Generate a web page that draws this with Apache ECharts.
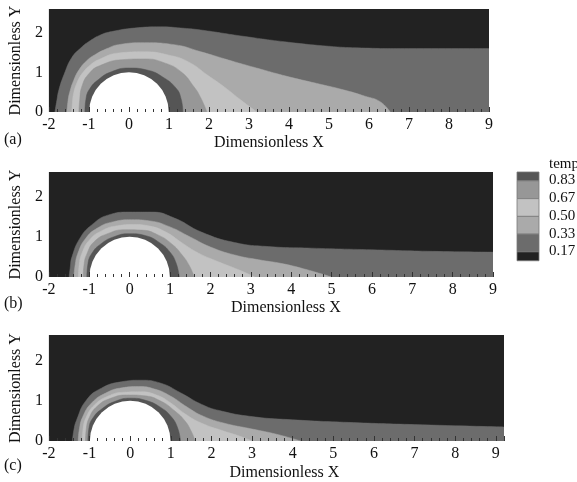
<!DOCTYPE html>
<html><head><meta charset="utf-8">
<script src="https://cdn.jsdelivr.net/npm/echarts@6/dist/echarts.min.js"></script>
<style>html,body{margin:0;padding:0;background:#fff}#c{width:577px;height:482px}</style>
</head><body><div id="c"></div>
<script>
// contour levels (legend) and band colours: >0.83, 0.67-0.83, 0.50-0.67, 0.33-0.50, 0.17-0.33, <0.17
const levels = ['0.83', '0.67', '0.50', '0.33', '0.17'];
const bandColors = ['#555555', '#979797', '#c2c2c2', '#aaaaaa', '#6c6c6c', '#222222'];
const legendTitle = 'temp';
const panelLabels = ['(a)', '(b)', '(c)'];
const xTickLabels = [-2, -1, 0, 1, 2, 3, 4, 5, 6, 7, 8, 9];
const yTickLabels = [0, 1, 2];
// cylinder: centre x, centre y, radius
const cylinder = [[0, 0, 1]];

// panel (a) iso-lines
const a17 = [[-1.85,0],[-1.8,0.3],[-1.75,0.56],[-1.62,0.95],[-1.43,1.37],[-1.2,1.62],[-1.0,1.78],[-0.7,1.95],[-0.43,2.03],[0.14,2.12],[0.8,2.15],[1.3,2.12],[1.8,2.07],[2.8,1.92],[4.0,1.76],[5.0,1.66],[5.7,1.62],[7,1.6],[9,1.6]];
const a33 = [[-1.55,0],[-1.52,0.3],[-1.48,0.5],[-1.38,0.8],[-1.25,1.06],[-1.05,1.3],[-0.86,1.44],[-0.55,1.6],[-0.26,1.7],[0.39,1.75],[1.13,1.7],[1.8,1.52],[2.63,1.27],[3.3,1.08],[3.95,0.9],[4.7,0.72],[5.36,0.56],[5.9,0.4],[6.28,0.26],[6.53,0]];
const a50 = [[-1.43,0],[-1.41,0.25],[-1.38,0.48],[-1.28,0.78],[-1.13,1.02],[-0.95,1.2],[-0.76,1.32],[-0.26,1.49],[0.39,1.52],[0.98,1.44],[1.48,1.27],[1.98,0.92],[2.4,0.62],[2.8,0.3],[3.2,0]];
const a67 = [[-1.25,0],[-1.23,0.3],[-1.18,0.63],[-0.98,0.99],[-0.68,1.19],[-0.18,1.32],[0.39,1.34],[0.89,1.24],[1.31,1.01],[1.63,0.63],[1.8,0.35],[1.95,0]];
const a83 = [[-1.1,0],[-1.07,0.35],[-0.97,0.6],[-0.76,0.82],[-0.45,1.01],[0,1.11],[0.45,1.06],[0.85,0.88],[1.18,0.6],[1.3,0.35],[1.35,0]];

// panel (b) iso-lines
const b17 = [[-1.5,0],[-1.47,0.25],[-1.43,0.5],[-1.23,0.97],[-0.94,1.3],[-0.52,1.55],[-0.02,1.62],[0.54,1.62],[1.11,1.47],[1.78,1.12],[2.6,0.86],[3.43,0.76],[4.5,0.72],[6,0.68],[7.5,0.64],[9,0.62]];
const b33 = [[-1.38,0],[-1.35,0.3],[-1.28,0.6],[-1.1,0.95],[-0.8,1.22],[-0.4,1.38],[0.05,1.43],[0.5,1.4],[1.0,1.25],[1.5,1.0],[2.0,0.75],[2.6,0.55],[3.2,0.43],[3.8,0.33],[4.4,0.18],[5.0,0]];
const b50 = [[-1.27,0],[-1.25,0.3],[-1.18,0.6],[-1.0,0.92],[-0.7,1.15],[-0.3,1.28],[0.1,1.31],[0.5,1.27],[0.9,1.12],[1.3,0.85],[1.7,0.6],[2.2,0.38],[2.7,0.18],[3.1,0]];
const b67 = [[-1.15,0],[-1.13,0.3],[-1.05,0.6],[-0.88,0.88],[-0.55,1.08],[-0.1,1.18],[0.3,1.17],[0.7,1.05],[1.05,0.82],[1.3,0.55],[1.48,0.28],[1.6,0]];
const b83 = [[-1.06,0],[-1.03,0.35],[-0.93,0.6],[-0.72,0.82],[-0.4,1.0],[0,1.08],[0.4,1.03],[0.75,0.85],[1.0,0.62],[1.15,0.35],[1.23,0]];

// panel (c) iso-lines
const c17 = [[-1.42,0],[-1.39,0.25],[-1.32,0.52],[-1.08,1.02],[-0.71,1.32],[-0.22,1.48],[0.26,1.52],[0.74,1.45],[1.25,1.2],[1.75,0.92],[2.2,0.76],[3.0,0.61],[4.0,0.53],[5.5,0.46],[7,0.41],[9.2,0.35]];
const c33 = [[-1.28,0],[-1.25,0.3],[-1.17,0.6],[-0.95,0.95],[-0.6,1.2],[-0.2,1.33],[0.2,1.36],[0.6,1.3],[1.0,1.12],[1.4,0.85],[1.8,0.62],[2.3,0.45],[3.0,0.3],[3.6,0.17],[4.2,0]];
const c50 = [[-1.18,0],[-1.16,0.3],[-1.08,0.6],[-0.88,0.9],[-0.55,1.12],[-0.15,1.22],[0.25,1.23],[0.65,1.15],[1.0,0.95],[1.35,0.68],[1.75,0.45],[2.3,0.25],[2.7,0.12],[3.0,0]];
const c67 = [[-1.1,0],[-1.08,0.3],[-1.0,0.6],[-0.82,0.86],[-0.5,1.06],[-0.05,1.15],[0.35,1.13],[0.75,1.0],[1.1,0.75],[1.35,0.5],[1.5,0.25],[1.6,0]];
const c83 = [[-1.04,0],[-1.01,0.35],[-0.9,0.6],[-0.7,0.8],[-0.4,0.98],[0,1.07],[0.4,1.01],[0.75,0.84],[1.0,0.62],[1.16,0.35],[1.24,0]];

const panels = [
  { lines: [a17, a33, a50, a67, a83], grid: {left: 47, top: 9, width: 442, height: 103}, xMax: 9, yMax: 2.6, nameGap: 23, namePad: 0, yGap: 21, label: [4, 141] },
  { lines: [b17, b33, b50, b67, b83], grid: {left: 47, top: 172, width: 446, height: 105}, xMax: 9, yMax: 2.62, nameGap: 23, namePad: 30, yGap: 21, label: [4, 305] },
  { lines: [c17, c33, c50, c67, c83], grid: {left: 44, top: 335, width: 460, height: 106}, xMax: 9.2, yMax: 2.65, nameGap: 24, namePad: 16, yGap: 18, label: [4, 467] }
];

const FONT = 'Liberation Serif';
const txt = '#111111';
const grids = [], xAxes = [], yAxes = [], series = [], graphics = [];

panels.forEach((p, i) => {
  grids.push(Object.assign({show: true, backgroundColor: bandColors[5], borderWidth: 0}, p.grid));
  xAxes.push({
    gridIndex: i, type: 'value', min: -2, max: p.xMax, interval: 1, z: 10,
    axisLine: {show: false},
    axisTick: {inside: true, length: 5, lineStyle: {color: '#333'}},
    minorTick: {show: true, splitNumber: 5, length: 3, lineStyle: {color: '#333'}},
    splitLine: {show: false},
    axisLabel: {margin: 5, fontFamily: FONT, fontSize: 16, color: txt,
      formatter: v => xTickLabels.indexOf(v) >= 0 ? String(v) : ''},
    name: 'Dimensionless X', nameLocation: 'middle', nameGap: p.nameGap,
    nameTextStyle: {fontFamily: FONT, fontSize: 16, color: txt, padding: [0, 0, 0, p.namePad]}
  });
  yAxes.push({
    gridIndex: i, type: 'value', min: 0, max: p.yMax, interval: 1, z: 10,
    axisLine: {show: false}, axisTick: {show: false}, splitLine: {show: false},
    axisLabel: {margin: 6, fontFamily: FONT, fontSize: 16, color: txt,
      formatter: v => yTickLabels.indexOf(v) >= 0 ? String(v) : ''},
    name: 'Dimensionless Y', nameLocation: 'middle', nameGap: p.yGap, nameRotate: 90,
    nameTextStyle: {fontFamily: FONT, fontSize: 16, color: txt}
  });
  p.lines.forEach((d, k) => {
    const col = bandColors[4 - k];
    series.push({
      type: 'line', xAxisIndex: i, yAxisIndex: i, data: d, smooth: 0.5,
      symbol: 'none', silent: true, animation: false,
      lineStyle: {width: 0.5, color: col}, areaStyle: {color: col, opacity: 1}
    });
  });
  series.push({
    type: 'custom', xAxisIndex: i, yAxisIndex: i, data: cylinder, silent: true, animation: false, z: 3,
    renderItem: (params, api) => {
      const c = api.coord([api.value(0), api.value(1)]);
      const s = api.size([api.value(2), api.value(2)]);
      return {type: 'sector', shape: {cx: c[0], cy: c[1], r0: 0, r: (s[0] + s[1]) / 2,
        startAngle: Math.PI, endAngle: 2 * Math.PI, clockwise: true}, style: {fill: '#ffffff'}};
    }
  });
  graphics.push({type: 'text', left: p.label[0], top: p.label[1] - 9,
    style: {text: panelLabels[i], font: '16px "' + FONT + '"', fill: txt}});
});

// legend
const lx = 517, lw = 22, ltop = 172, step = 17.75;
graphics.push({type: 'text', left: 549, top: 157, style: {text: legendTitle, font: '15px "' + FONT + '"', fill: txt}});
bandColors.forEach((c, k) => {
  const y0 = k === 0 ? ltop : ltop + step / 2 + (k - 1) * step;
  const h = (k === 0 || k === bandColors.length - 1) ? step / 2 : step;
  graphics.push({type: 'rect', shape: {x: lx, y: y0, width: lw, height: h},
    style: {fill: c, stroke: '#7a7a7a', lineWidth: 0.8}});
});
levels.forEach((t, k) => {
  graphics.push({type: 'text', left: 549, top: ltop + step / 2 + k * step - 8,
    style: {text: t, font: '15px "' + FONT + '"', fill: txt}});
});

const chart = echarts.init(document.getElementById('c'), null, {renderer: 'canvas'});
chart.setOption({animation: false, grid: grids, xAxis: xAxes, yAxis: yAxes, series: series, graphic: graphics});
</script></body></html>
